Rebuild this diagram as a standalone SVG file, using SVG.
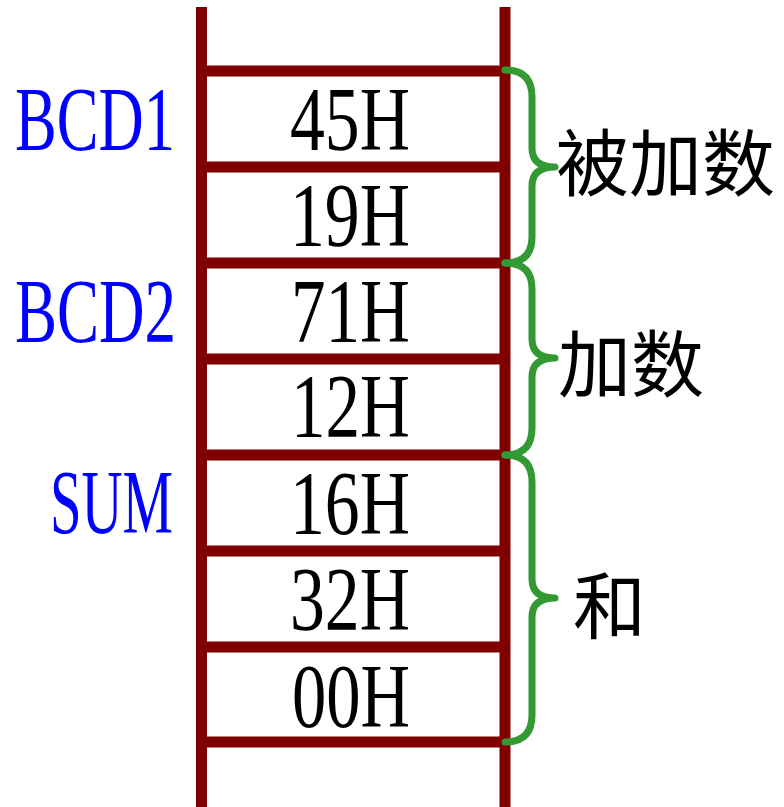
<svg xmlns="http://www.w3.org/2000/svg" width="784" height="807" viewBox="0 0 784 807">
<style>
.rail{stroke:#800000;stroke-width:11;fill:none}
.val{font-family:"Liberation Serif",serif;font-size:90px;fill:#000}
.lbl{font-family:"Liberation Serif",serif;font-size:90px;fill:#0000ff}
.brace{stroke:#339933;stroke-width:7;fill:none;stroke-linecap:round;stroke-linejoin:round}
.cn{font-family:"Noto Sans CJK SC",sans-serif;font-size:73px;fill:#000}
</style>
<rect width="784" height="807" fill="#fff"/>
<g id="memory">
<line class="rail" x1="201.5" y1="7" x2="201.5" y2="807"/>
<line class="rail" x1="505" y1="7" x2="505" y2="807"/>
<line class="rail" x1="196" y1="71" x2="510" y2="71"/>
<line class="rail" x1="196" y1="167" x2="510" y2="167"/>
<line class="rail" x1="196" y1="263" x2="510" y2="263"/>
<line class="rail" x1="196" y1="359" x2="510" y2="359"/>
<line class="rail" x1="196" y1="455" x2="510" y2="455"/>
<line class="rail" x1="196" y1="551" x2="510" y2="551"/>
<line class="rail" x1="196" y1="647" x2="510" y2="647"/>
<line class="rail" x1="196" y1="742" x2="510" y2="742"/>
</g>
<g id="cells">
<text class="val" x="290" y="150" textLength="120" lengthAdjust="spacingAndGlyphs">45H</text>
<text class="val" x="290" y="246" textLength="120" lengthAdjust="spacingAndGlyphs">19H</text>
<text class="val" x="291" y="342" textLength="119" lengthAdjust="spacingAndGlyphs">71H</text>
<text class="val" x="291" y="437" textLength="119" lengthAdjust="spacingAndGlyphs">12H</text>
<text class="val" x="290" y="534" textLength="120" lengthAdjust="spacingAndGlyphs">16H</text>
<text class="val" x="290" y="630" textLength="120" lengthAdjust="spacingAndGlyphs">32H</text>
<text class="val" x="292" y="727" textLength="118" lengthAdjust="spacingAndGlyphs">00H</text>
</g>
<g id="labels">
<text class="lbl" x="15" y="150" textLength="160" lengthAdjust="spacingAndGlyphs">BCD1</text>
<text class="lbl" x="15" y="342" textLength="161" lengthAdjust="spacingAndGlyphs">BCD2</text>
<text class="lbl" x="50" y="533" textLength="123" lengthAdjust="spacingAndGlyphs">SUM</text>
</g>
<g id="connectors">
<path class="brace" d="M505,70 Q532,70 532,97 L532,148 Q532,167 555,167 Q532,167 532,186 L532,237 Q532,263 505,263"/>
<path class="brace" d="M505,263 Q532,263 532,289 L532,339 Q532,358 555,358 Q532,358 532,377 L532,428 Q532,455 505,455"/>
<path class="brace" d="M505,455 Q532,455 532,482 L532,579 Q532,598 555,598 Q532,598 532,617 L532,715 Q532,742 505,742"/>
</g>
<g id="notes">
<text class="cn" x="556" y="190">被加数</text>
<text class="cn" x="558" y="391">加数</text>
<text class="cn" x="573" y="633">和</text>
</g>
</svg>
